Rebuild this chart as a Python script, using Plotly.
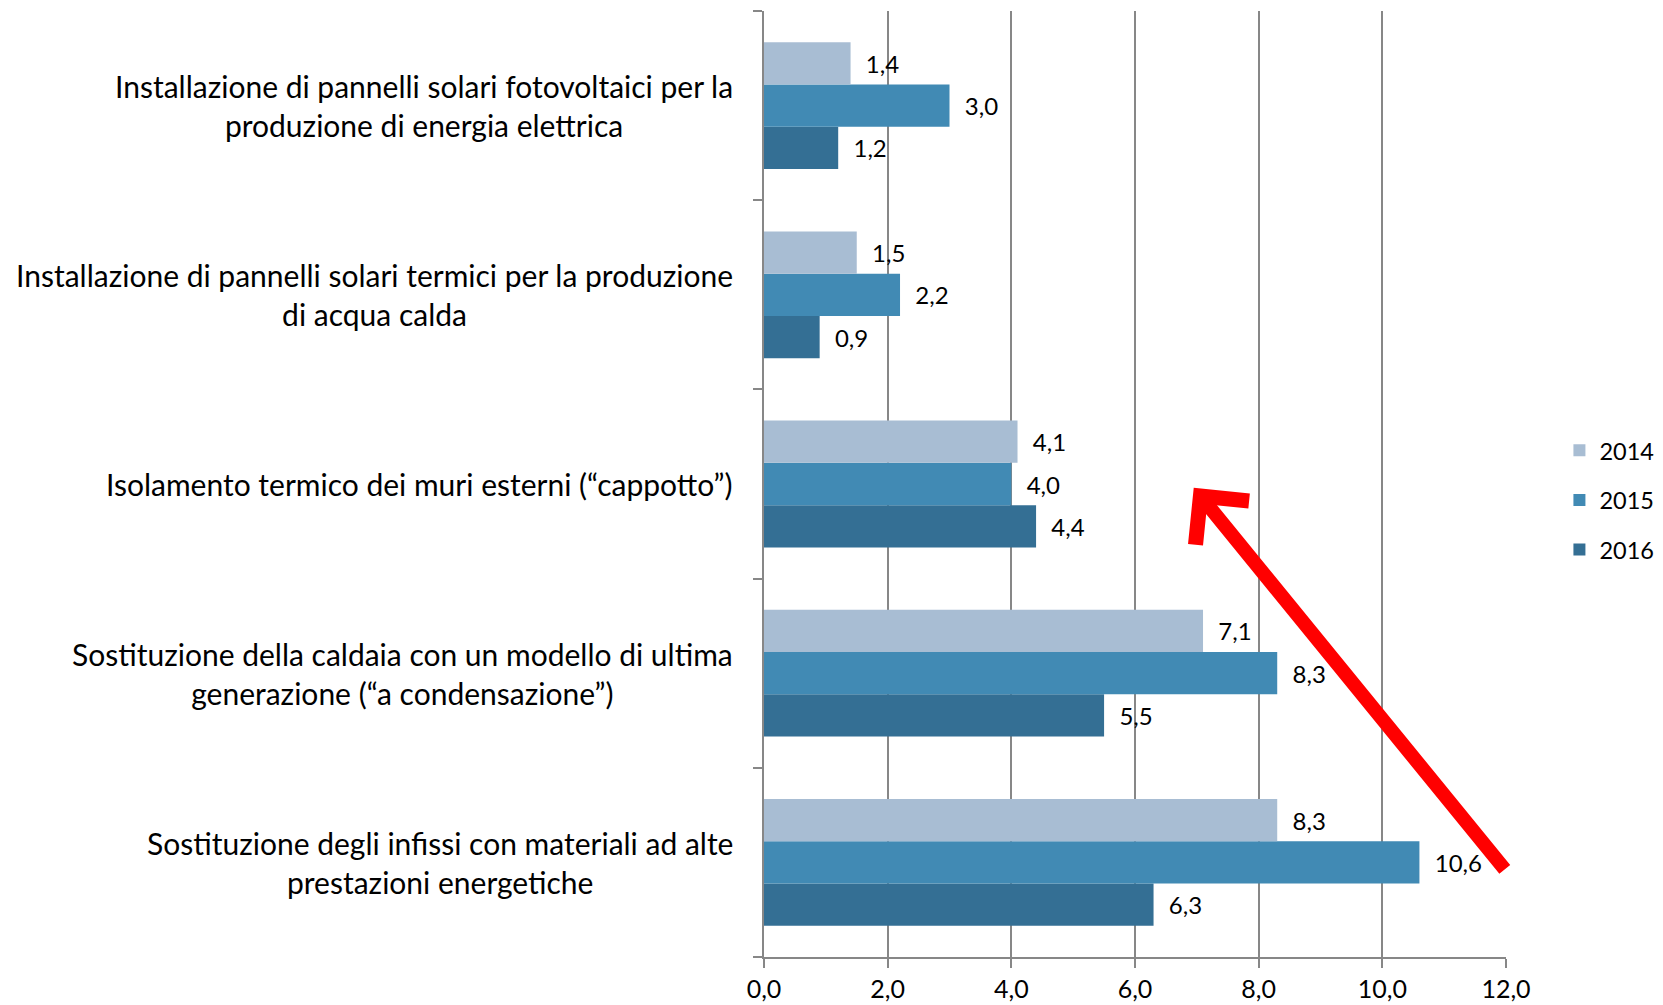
import plotly.graph_objects as go

categories = [
    "Sostituzione degli infissi con materiali ad alte<br>prestazioni energetiche",
    "Sostituzione della caldaia con un modello di ultima<br>generazione (“a condensazione”)",
    "Isolamento termico dei muri esterni (“cappotto”)",
    "Installazione di pannelli solari termici per la produzione<br>di acqua calda",
    "Installazione di pannelli solari fotovoltaici per la<br>produzione di energia elettrica",
]
series_names = ["2014", "2015", "2016"]
values_2014 = [8.3, 7.1, 4.1, 1.5, 1.4]
values_2015 = [10.6, 8.3, 4.0, 2.2, 3.0]
values_2016 = [6.3, 5.5, 4.4, 0.9, 1.2]
x_ticks = [0, 2, 4, 6, 8, 10, 12]

colors = {"2014": "#A8BDD3", "2015": "#418AB4", "2016": "#346F94"}
series = {"2014": values_2014, "2015": values_2015, "2016": values_2016}
ranks = {"2014": 1, "2015": 2, "2016": 3}

FONT = "Lato"
fig = go.Figure()
for name in ["2016", "2015", "2014"]:
    vals = series[name]
    fig.add_trace(go.Bar(
        y=list(range(len(categories))), x=vals, orientation="h", name=name,
        marker=dict(color=colors[name], line=dict(width=0)),
        text=["\u00a0\u00a0" + f"{v:.1f}".replace(".", ",") for v in vals],
        textposition="outside", constraintext="none", cliponaxis=False,
        textfont=dict(family=FONT, size=24, color="#000000"),
        legendgroup=name, legendrank=ranks[name],
    ))

for i, c in enumerate(categories):
    fig.add_annotation(x=0, xref="paper", y=i, yref="y", text=c, showarrow=False,
                       xanchor="right", align="center", xshift=-29,
                       font=dict(family=FONT, size=30, color="#000000"))

# red arrow
fig.add_annotation(x=6.95, y=1.98, xref="x", yref="y", ax=12.0, ay=-0.045,
                   axref="x", ayref="y", text="", showarrow=True,
                   arrowhead=4, arrowsize=0.95, arrowwidth=14, arrowcolor="#FF0000")

fig.update_layout(
    width=1663, height=1005,
    margin=dict(l=764, r=157, t=11, b=48, autoexpand=False),
    paper_bgcolor="white", plot_bgcolor="white",
    barmode="group", bargap=0.33, bargroupgap=0,
    legend=dict(x=1.072, y=0.483, xanchor="left", yanchor="middle",
                traceorder="grouped", tracegroupgap=16,
                font=dict(family=FONT, size=23.5, color="#000000"),
                itemwidth=30),
    showlegend=True,
)
fig.update_xaxes(range=[0, 12], tickvals=x_ticks,
                 ticktext=[f"{t:.1f}".replace(".", ",") for t in x_ticks],
                 showgrid=True, gridcolor="#878787", gridwidth=1.5,
                 showline=True, linecolor="#878787", linewidth=1.5,
                 ticks="outside", ticklen=9, tickcolor="#878787", tickwidth=1.5,
                 zeroline=False,
                 tickfont=dict(family=FONT, size=25, color="#000000"))
fig.update_yaxes(range=[-0.5, 4.5], tickvals=[-0.5, 0.5, 1.5, 2.5, 3.5, 4.5],
                 showticklabels=False,
                 showline=True, linecolor="#878787", linewidth=1.5,
                 ticks="outside", ticklen=9, tickcolor="#878787", tickwidth=1.5,
                 showgrid=False, zeroline=False)

fig.write_html("out.html", config={"displayModeBar": False},
               post_script="document.body.style.margin='0';document.body.style.overflow='hidden';")
